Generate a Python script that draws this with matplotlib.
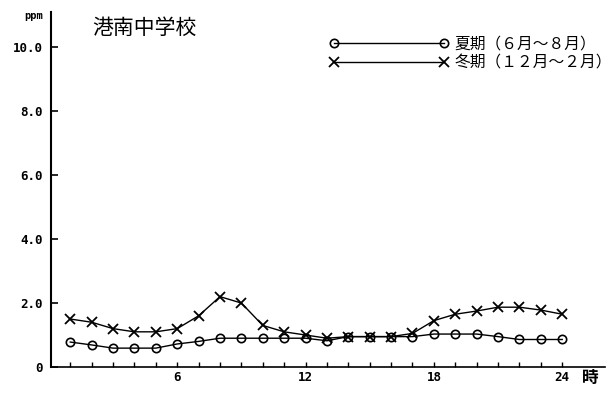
import matplotlib
matplotlib.use("Agg")
import matplotlib.pyplot as plt
from matplotlib.ticker import FixedLocator

plt.rcParams['font.family'] = ['Noto Sans CJK JP', 'DejaVu Sans']

hours = list(range(1, 25))
summer = [0.78, 0.69, 0.59, 0.59, 0.59, 0.72, 0.80, 0.90, 0.90, 0.90, 0.90, 0.90,
          0.82, 0.95, 0.95, 0.95, 0.95, 1.03, 1.03, 1.03, 0.95, 0.86, 0.86, 0.86]
winter = [1.50, 1.40, 1.20, 1.10, 1.10, 1.20, 1.60, 2.20, 2.00, 1.30, 1.10, 1.00,
          0.90, 0.95, 0.95, 0.95, 1.05, 1.45, 1.65, 1.75, 1.87, 1.87, 1.78, 1.65]
title = "港南中学校"
summer_label = "夏期（６月～８月）"
winter_label = "冬期（１２月～２月）"
yticks = [0, 2, 4, 6, 8, 10]
ytick_labels = ["0", "2.0", "4.0", "6.0", "8.0", "10.0"]
xticks = [6, 12, 18, 24]

fig = plt.figure(figsize=(6.16, 3.94), dpi=100)
ax = fig.add_axes([51/616, 1-367/394, (605-51)/616, (367-12)/394])

ax.plot(hours, summer, color='black', lw=1.0, marker='o', markersize=6,
        markerfacecolor='none', markeredgewidth=1.2, label=summer_label)
ax.plot(hours, winter, color='black', lw=1.0, marker='x', markersize=7,
        markeredgewidth=1.3, label=winter_label)

ax.set_xlim(0.1, 26)
ax.set_ylim(0, 11.1)
ax.spines['top'].set_visible(False)
ax.spines['right'].set_visible(False)
ax.spines['left'].set_linewidth(1.5)
ax.spines['bottom'].set_linewidth(1.2)

ax.set_yticks(yticks)
ax.set_yticklabels(ytick_labels, fontsize=9, fontweight='bold', family='DejaVu Sans Mono')
ax.tick_params(axis='y', direction='in', length=5, width=1.2, pad=6)
ax.set_xticks(xticks)
ax.set_xticklabels([str(t) for t in xticks], fontsize=9, fontweight='bold', family='DejaVu Sans Mono')
ax.xaxis.set_minor_locator(FixedLocator(hours))
ax.tick_params(axis='x', which='both', direction='in', length=3.5, width=1.0, pad=3)

ax.text(-0.015, 0.99, "ppm", transform=ax.transAxes, ha='right', va='center',
        fontsize=7.5, fontweight='bold', family='DejaVu Sans Mono')
ax.text(0.973, -0.03, "時", transform=ax.transAxes, ha='center', va='center', fontsize=12,
        fontweight='bold')
ax.text(0.075, 0.955, title, transform=ax.transAxes, ha='left', va='center', fontsize=15)

leg = ax.legend(loc='upper left', bbox_to_anchor=(0.489, 0.957), numpoints=2,
                handlelength=7.6, handletextpad=0.35, labelspacing=0.15,
                frameon=False, fontsize=11.3, borderpad=0)

fig.savefig("out.png", dpi=100)
